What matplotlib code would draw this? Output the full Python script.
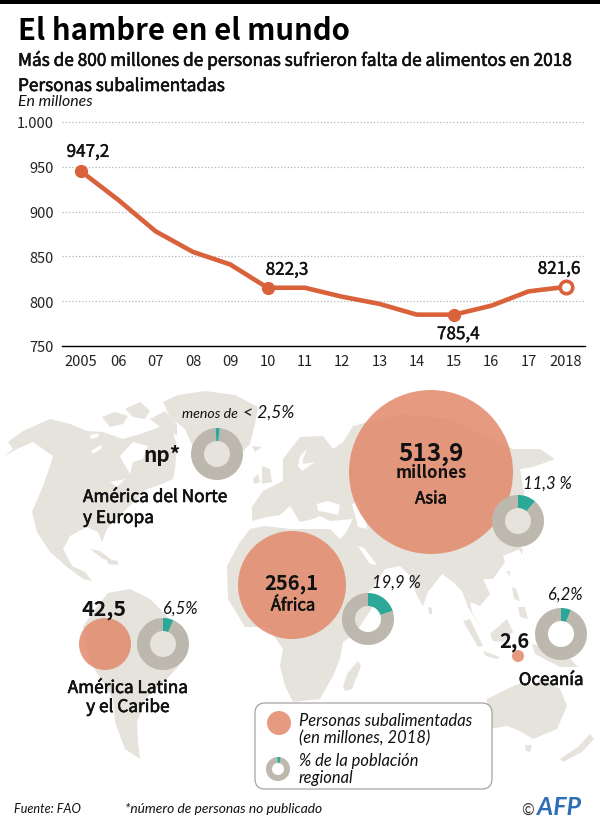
import matplotlib
matplotlib.use("Agg")
import matplotlib.pyplot as plt
import matplotlib.patheffects as pe
from matplotlib.patches import Circle, Polygon, Wedge, FancyBboxPatch

# Fuente recta parecida a la original, cursiva aparte
SANS = ['Noto Sans CJK SC', 'DejaVu Sans']
ITAL = ['Lato', 'DejaVu Sans']

# Datos de la curva
years = list(range(2005, 2019))
year_labels = ['2005', '06', '07', '08', '09', '10', '11', '12', '13', '14', '15', '16', '17', '2018']
hunger = [945, 913, 878, 855, 841, 815, 815, 805, 797, 785, 785, 795, 811, 816]
y_ticks = [750, 800, 850, 900, 950, 1000]
y_tick_labels = ['750', '800', '850', '900', '950', '1.000']
label_years = [2005, 2010, 2015, 2018]
label_texts = ['947,2', '822,3', '785,4', '821,6']

# Datos por region
regions = ['Asia', 'Africa', 'Latina', 'Oceania']
people = [513.9, 256.1, 42.5, 2.6]
people_labels = ['513,9', '256,1', '42,5', '2,6']
share = [11.3, 19.9, 6.5, 6.2, 2.5]

# Mapa de fondo (contornos en pixeles de la imagen)
north_america = [(3, 458), (13, 450), (8, 443), (23, 432), (50, 420), (70, 425), (87, 432), (103, 433), (123, 440),
                 (140, 435), (160, 428), (173, 433), (177, 447), (175, 470), (173, 480), (157, 487), (147, 490),
                 (137, 500), (123, 513), (107, 530), (102, 543), (98, 533), (87, 528), (70, 537), (63, 550),
                 (72, 567), (85, 573), (92, 582), (83, 580), (67, 568), (50, 553), (37, 533), (32, 513),
                 (43, 487), (50, 467), (53, 457), (33, 443), (17, 450)]
hudson = [(120, 457), (133, 443), (148, 447), (143, 460), (133, 463), (130, 475), (123, 463)]
great_lakes = [(110, 483), (125, 480), (117, 488)]
bear_lake = [(90, 436), (99, 434), (98, 438), (91, 440)]
slave_lake = [(91, 452), (101, 446), (102, 449), (93, 455)]
arctic_1 = [(102, 418), (115, 413), (128, 417), (123, 425), (110, 428)]
arctic_2 = [(125, 410), (140, 403), (150, 412), (145, 420), (133, 418)]
arctic_3 = [(150, 420), (165, 412), (177, 425), (177, 436), (160, 428)]
greenland = [(163, 403), (178, 396), (205, 392), (235, 396), (258, 408), (255, 425), (250, 445),
             (245, 450), (222, 480), (200, 465), (185, 430), (170, 418)]
cuba = [(90, 550), (100, 552), (113, 562), (103, 560)]
hispaniola = [(107, 560), (118, 562), (118, 566), (108, 565)]
south_america = [(93, 613), (108, 594), (130, 590), (150, 600), (168, 618), (186, 648), (178, 668), (160, 687),
                 (145, 700), (140, 715), (137, 723), (138, 743), (140, 760), (125, 750), (115, 723), (113, 700),
                 (90, 663), (83, 627)]
europe_asia = [(252, 522), (252, 508), (263, 492), (283, 482), (283, 468), (283, 460), (300, 438), (323, 437),
               (333, 450), (343, 443), (353, 427), (400, 415), (450, 420), (513, 450), (540, 450), (555, 460),
               (533, 468), (520, 470), (525, 500), (535, 525), (520, 550), (503, 557), (505, 563), (493, 580),
               (483, 580), (490, 595), (480, 607), (470, 603), (472, 613), (482, 630), (468, 608), (462, 592),
               (453, 583), (442, 575), (428, 593), (423, 607), (417, 597), (410, 577), (400, 567), (385, 570),
               (372, 590), (350, 610), (340, 575), (335, 545), (345, 535), (353, 520), (330, 522), (320, 517),
               (313, 520), (300, 523), (290, 507), (280, 516), (267, 518)]
baltic = [(298, 467), (300, 457), (307, 450), (303, 460), (303, 465), (315, 463), (302, 472)]
black_sea = [(317, 505), (328, 502), (340, 506), (338, 516), (325, 513), (318, 512)]
caspian = [(352, 505), (358, 503), (366, 522), (367, 530), (358, 528)]
persian = [(358, 547), (364, 549), (377, 566), (370, 565)]
africa = [(227, 567), (240, 543), (250, 530), (265, 527), (290, 530), (330, 530), (345, 545), (355, 585), (365, 605),
          (374, 606), (355, 635), (343, 643), (340, 660), (333, 677), (320, 700), (293, 703), (285, 687), (280, 667),
          (283, 650), (268, 628), (245, 628), (228, 600)]
madagascar = [(358, 662), (361, 667), (352, 690), (345, 692), (343, 688), (347, 675)]
uk = [(262, 467), (270, 470), (272, 483), (262, 485)]
ireland = [(253, 480), (258, 475), (260, 483), (254, 485)]
iceland = [(252, 447), (262, 448), (255, 453)]
hainan = [(506, 572), (510, 572), (510, 577)]
japan = [(518, 547), (523, 550), (522, 556)]
sri_lanka = [(428, 608), (432, 609), (432, 615), (429, 615)]
sumatra = [(463, 622), (470, 620), (483, 647), (478, 648)]
java = [(483, 652), (500, 658), (497, 660), (486, 657)]
borneo = [(490, 635), (507, 620), (513, 633), (503, 643), (493, 642)]
luzon = [(512, 588), (516, 590), (520, 602), (514, 600)]
mindanao = [(518, 608), (525, 608), (528, 620), (520, 618)]
new_guinea = [(532, 645), (566, 655), (578, 668), (560, 668), (535, 655)]
australia = [(487, 700), (507, 690), (523, 683), (533, 687), (543, 678), (560, 690), (567, 707), (557, 730),
             (533, 740), (520, 732), (507, 727), (490, 730), (485, 717)]
tasmania = [(525, 746), (532, 746), (530, 753), (526, 752)]
new_zealand = [(560, 760), (578, 748), (590, 735), (594, 740), (582, 753), (563, 763)]
land = [north_america, arctic_1, arctic_2, arctic_3, greenland, cuba, hispaniola, south_america, europe_asia, africa,
        madagascar, uk, ireland, iceland, hainan, japan, sri_lanka, sumatra, java, borneo, luzon, mindanao,
        new_guinea, australia, tasmania, new_zealand]
water = [hudson, great_lakes, bear_lake, slave_lake, baltic, black_sea, caspian, persian]

# Colores
ORANGE = '#D9623B'
BUBBLE = '#E28A6B'
LAND = '#E6E2DC'
RING = '#BDB8AE'
TEAL = '#2BA898'

fig = plt.figure(figsize=(6, 8.28), dpi=100, facecolor='white')

# Lienzo entero en pixeles
bg = fig.add_axes([0, 0, 1, 1])
bg.set_xlim(0, 600)
bg.set_ylim(828, 0)
bg.axis('off')


def put(x, y, s, size, weight='normal', ital=False, ha='left', color='#111111'):
    fam = ITAL if ital else SANS
    # la fuente CJK queda algo alta con va=center
    dy = 0 if ital else 0.16 * size
    fx = None
    if weight == 'medium':
        weight = 'normal'
        fx = [pe.withStroke(linewidth=0.45, foreground=color)]
    bg.text(x, y + dy, s, fontsize=size, fontweight=weight, family=fam, style='italic' if ital else 'normal',
            ha=ha, va='center', color=color, zorder=10, path_effects=fx)


def donut(x, y, r, pct, hole=0.5):
    start = -90 - (3 if pct < 3 else 0)
    end = start + 360 * pct / 100
    bg.add_patch(Wedge((x, y), r, end, start + 360, width=r * (1 - hole), fc=RING, ec='none', zorder=5))
    bg.add_patch(Wedge((x, y), r, start, end, width=r * (1 - hole), fc=TEAL, ec='none', zorder=5))


bg.add_patch(plt.Rectangle((0, 0), 600, 5, fc='black', ec='none'))

for shape in land:
    bg.add_patch(Polygon(shape, closed=True, fc=LAND, ec='none', zorder=1))
for shape in water:
    bg.add_patch(Polygon(shape, closed=True, fc='white', ec='none', zorder=2))

# Titulos
put(18, 28, 'El hambre en el mundo', 21.1, 'bold', color='black')
put(18, 59, 'Más de 800 millones de personas sufrieron falta de alimentos en 2018', 12.4, 'medium')
put(18, 85, 'Personas subalimentadas', 12.4, 'medium')
put(18, 102, 'En millones', 11.4, ital=True)

# Burbujas
bubble_pos = [(431, 473), (292, 586), (105, 645), (518, 657)]
bubble_r = [82, 54, 26, 6]
for (bx, by), r in zip(bubble_pos, bubble_r):
    bg.add_patch(Circle((bx, by), r, fc=BUBBLE, ec='none', alpha=0.85, zorder=3))

# Donas
donut(518, 522, 26, share[0])
donut(368, 620, 26, share[1])
donut(163, 645, 26, share[2])
donut(561, 635, 26, share[3])
donut(217, 455, 26, share[4])

# Textos del mapa
put(431, 451, people_labels[0], 17.5, 'bold', ha='center')
put(431, 471, 'millones', 12, 'bold', ha='center')
put(431, 498, 'Asia', 12, 'medium', ha='center')
put(291, 581, people_labels[1], 14.5, 'bold', ha='center')
put(293, 605, 'África', 12, 'medium', ha='center')
put(104, 607, people_labels[2], 15.5, 'bold', ha='center')
put(514, 639, people_labels[3], 14.5, 'bold', ha='center')
put(162, 453, 'np*', 15, 'bold', ha='center')
put(83, 496, 'América del Norte', 12.4, 'medium')
put(83, 517, 'y Europa', 12.4, 'medium')
put(128, 687, 'América Latina', 12.4, 'medium', ha='center')
put(128, 706, 'y el Caribe', 12.4, 'medium', ha='center')
put(551, 679, 'Oceanía', 12.2, 'medium', ha='center')
put(182, 414, 'menos de', 10.2, ital=True)
put(243, 413, '< 2,5%', 12.5, ital=True)
put(547, 484, '11,3 %', 12, ital=True, ha='center')
put(396, 583, '19,9 %', 12, ital=True, ha='center')
put(180, 609, '6,5%', 12, ital=True, ha='center')
put(565, 595, '6,2%', 12, ital=True, ha='center')

# Leyenda
bg.add_patch(FancyBboxPatch((262, 711), 223, 72, boxstyle='round,pad=7,rounding_size=10',
                            fc='white', ec='#9A9A9A', lw=0.8, zorder=6))
bg.add_patch(Circle((279, 724), 12, fc=BUBBLE, ec='none', alpha=0.85, zorder=7))
start = -90 - 4
bg.add_patch(Wedge((278, 770), 12, start + 18, start + 360, width=6, fc=RING, ec='none', zorder=7))
bg.add_patch(Wedge((278, 770), 12, start, start + 18, width=6, fc=TEAL, ec='none', zorder=7))
put(299, 721, 'Personas subalimentadas', 11.9, ital=True)
put(299, 738, '(en millones, 2018)', 11.9, ital=True)
put(299, 761, '% de la población', 11.9, ital=True)
put(299, 778, 'regional', 11.9, ital=True)

# Pie
put(14, 809, 'Fuente: FAO', 9.1, ital=True)
put(125, 809, '*número de personas no publicado', 9.9, ital=True)
put(521, 809, '©', 11, color='#333333')
put(537, 808, 'AFP', 18, 'bold', ital=True, color='#2F6DB5')

# Curva
ax = fig.add_axes([62 / 600, 1 - 347 / 828, 523 / 600, 224 / 828])
ax.patch.set_alpha(0)
ax.set_xlim(2004.49, 2018.51)
ax.set_ylim(750, 1000)
ax.set_yticks(y_ticks)
ax.set_yticklabels(y_tick_labels, family=SANS, fontsize=10.5, color='#222222')
ax.set_xticks(years)
ax.set_xticklabels(year_labels, family=SANS, fontsize=10.5, color='#222222')
ax.tick_params(axis='both', length=0)
ax.tick_params(axis='y', pad=6)
ax.tick_params(axis='x', pad=6)
for side in ['top', 'left', 'right']:
    ax.spines[side].set_visible(False)
ax.spines['bottom'].set_linewidth(1)
ax.grid(axis='y', color='#B5B5B5', linestyle=':', linewidth=0.9)
ax.set_axisbelow(True)
for t in ax.yaxis.get_gridlines():
    t.set_clip_on(False)

ax.plot(years, hunger, color=ORANGE, linewidth=3.3, solid_joinstyle='round', solid_capstyle='round', clip_on=False)
for yr in label_years[:3]:
    ax.plot(yr, hunger[years.index(yr)], 'o', color=ORANGE, markersize=8.5, clip_on=False)
ax.plot(2018, hunger[-1], 'o', mfc='white', mec=ORANGE, mew=2.6, markersize=9, clip_on=False)

offsets = [(5, 14), (14, 13), (3, -14), (-5, 13)]
for yr, txt, off in zip(label_years, label_texts, offsets):
    ax.annotate(txt, (yr, hunger[years.index(yr)]), xytext=off, textcoords='offset points',
                ha='center', va='center', fontsize=12.3, family=SANS, color='#111111',
                path_effects=[pe.withStroke(linewidth=0.3, foreground='#111111')])

fig.savefig('out.png', dpi=100)
